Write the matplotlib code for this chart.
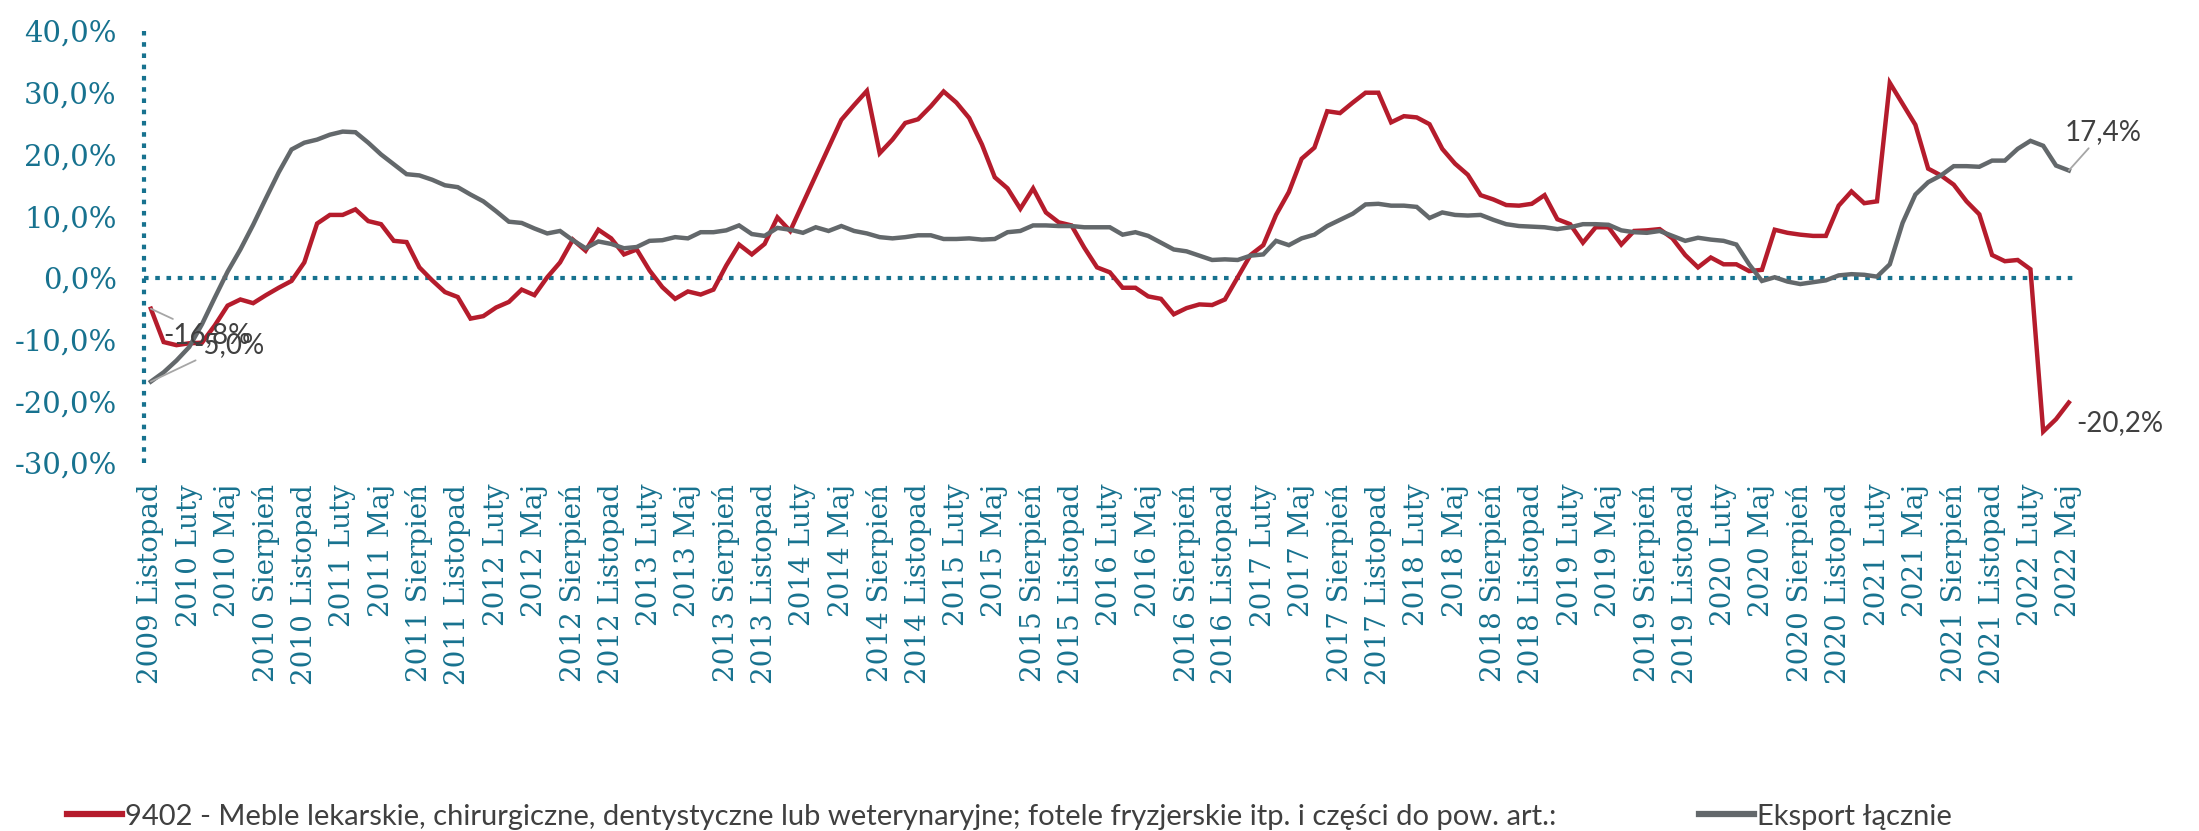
import matplotlib
matplotlib.use('Agg')
import matplotlib.pyplot as plt
import numpy as np

# miesiące od 2009 Listopad do 2022 Maj
month_names = ['Styczeń', 'Luty', 'Marzec', 'Kwiecień', 'Maj', 'Czerwiec',
               'Lipiec', 'Sierpień', 'Wrzesień', 'Październik', 'Listopad', 'Grudzień']
months = []
for year in range(2009, 2023):
    for m in range(12):
        if (year == 2009 and m < 10) or (year == 2022 and m > 4):
            continue
        months.append(f'{year} {month_names[m]}')

meble = [-5.0, -10.4, -10.9, -10.6, -10.5, -7.7, -4.5, -3.5, -4.1, -2.8,
         -1.6, -0.5, 2.5, 8.8, 10.2, 10.2, 11.1, 9.2, 8.7, 6.0,
         5.8, 1.7, -0.4, -2.3, -3.1, -6.6, -6.2, -4.8, -3.9, -1.9,
         -2.8, 0.1, 2.5, 6.2, 4.4, 7.8, 6.4, 3.8, 4.6, 1.2,
         -1.5, -3.4, -2.2, -2.7, -1.9, 2.0, 5.4, 3.8, 5.5, 9.8,
         7.6, 12.1, 16.6, 21.1, 25.6, 28.0, 30.3, 20.2, 22.4, 25.1,
         25.7, 27.8, 30.2, 28.4, 25.9, 21.6, 16.3, 14.5, 11.2, 14.5,
         10.6, 9.0, 8.5, 4.9, 1.7, 0.9, -1.6, -1.6, -3.0, -3.4,
         -5.9, -4.9, -4.3, -4.4, -3.5, 0.1, 3.7, 5.3, 10.2, 13.9,
         19.3, 21.1, 27.0, 26.7, 28.4, 30.0, 30.0, 25.2, 26.2, 26.0,
         24.9, 20.9, 18.5, 16.7, 13.4, 12.7, 11.8, 11.7, 12.0, 13.4,
         9.5, 8.7, 5.7, 8.2, 8.2, 5.4, 7.6, 7.7, 7.9, 6.4,
         3.7, 1.7, 3.3, 2.2, 2.2, 1.1, 1.3, 7.8, 7.3, 7.0,
         6.8, 6.8, 11.7, 14.0, 12.1, 12.4, 31.6, 28.2, 24.8, 17.7,
         16.6, 15.1, 12.4, 10.3, 3.7, 2.7, 2.9, 1.4, -24.9, -22.9,
         -20.2]

eksport = [-16.8, -15.3, -13.4, -11.2, -7.5, -3.2, 1.0, 4.6, 8.6, 12.9,
           17.1, 20.8, 21.9, 22.4, 23.2, 23.7, 23.6, 21.9, 20.0, 18.4,
           16.8, 16.6, 15.9, 15.0, 14.7, 13.5, 12.4, 10.8, 9.1, 8.9,
           8.0, 7.2, 7.6, 6.1, 4.8, 5.9, 5.5, 4.8, 5.0, 6.0,
           6.1, 6.6, 6.4, 7.4, 7.4, 7.7, 8.5, 7.1, 6.8, 8.1,
           7.8, 7.3, 8.2, 7.6, 8.4, 7.6, 7.2, 6.6, 6.4, 6.6,
           6.9, 6.9, 6.3, 6.3, 6.4, 6.2, 6.3, 7.4, 7.6, 8.5,
           8.5, 8.4, 8.4, 8.2, 8.2, 8.2, 7.0, 7.4, 6.8, 5.7,
           4.6, 4.3, 3.6, 2.9, 3.0, 2.9, 3.6, 3.8, 6.0, 5.3,
           6.4, 7.0, 8.4, 9.4, 10.4, 11.9, 12.0, 11.7, 11.7, 11.5,
           9.7, 10.6, 10.2, 10.1, 10.2, 9.4, 8.7, 8.4, 8.3, 8.2,
           7.9, 8.2, 8.7, 8.7, 8.6, 7.7, 7.4, 7.3, 7.6, 6.8,
           6.0, 6.5, 6.2, 6.0, 5.4, 2.2, -0.5, 0.1, -0.6, -1.0,
           -0.7, -0.4, 0.4, 0.6, 0.5, 0.2, 2.2, 8.9, 13.5, 15.5,
           16.6, 18.1, 18.1, 18.0, 19.0, 19.0, 20.9, 22.2, 21.4, 18.2,
           17.4]

series_names = ['9402 - Meble lekarskie, chirurgiczne, dentystyczne lub weterynaryjne; '
                'fotele fryzjerskie itp. i części do pow. art.:', 'Eksport łącznie']
y_ticks = [-30, -20, -10, 0, 10, 20, 30, 40]
tick_labels = months[::3]

teal = '#17728f'
red = '#b51c2c'
grey = '#63686b'
txt = '#404040'

fig = plt.figure(figsize=(21.99, 8.31), dpi=100)
ax = fig.add_axes([0.0657, 0.4428, 0.878, 0.5199])

x = np.arange(len(months))
ax.plot(x, meble, color=red, lw=3.2, solid_joinstyle='miter', zorder=3, label=series_names[0])
ax.plot(x, eksport, color=grey, lw=3.2, solid_joinstyle='miter', zorder=4, label=series_names[1])

ax.set_xlim(-0.5, len(months) - 0.5)
ax.set_ylim(-30, 40)
ax.axhline(0, color=teal, lw=3.0, linestyle=(0, (1.1, 1.6)), dash_capstyle='butt', zorder=2)

for s in ['top', 'right', 'bottom']:
    ax.spines[s].set_visible(False)
ax.spines['left'].set_color(teal)
ax.spines['left'].set_linewidth(3.0)
ax.spines['left'].set_linestyle((0, (1.1, 1.6)))
ax.spines['left'].set_capstyle('butt')

ax.set_yticks(y_ticks)
ax.set_yticklabels([f'{v:.1f}%'.replace('.', ',') for v in y_ticks],
                   fontfamily='DejaVu Serif', fontsize=21, color=teal)
ax.set_xticks(x[::3])
ax.set_xticklabels(tick_labels, rotation=90, fontfamily='DejaVu Serif', fontsize=20, color=teal)
ax.tick_params(axis='y', length=0, pad=20)
ax.tick_params(axis='x', length=0, pad=15)

lbl = dict(fontfamily='Lato', fontsize=20, color=txt, ha='center', va='center')
lead = dict(arrowstyle='-', color='#a6a6a6', lw=1.3, shrinkA=0, shrinkB=0)
ax.annotate('-16,8%', xy=(0, meble[0]), xytext=(56, -26), textcoords='offset pixels',
            arrowprops=lead, zorder=6, **lbl)
ax.annotate('-5,0%', xy=(0, eksport[0]), xytext=(78, 37), textcoords='offset pixels',
            arrowprops=lead, zorder=6, **lbl)
ax.annotate('17,4%', xy=(len(months) - 1, eksport[-1]), xytext=(34, 38), textcoords='offset pixels',
            arrowprops=lead, zorder=6, **lbl)
ax.annotate('-20,2%', xy=(len(months) - 1, meble[-1]), xytext=(51, -20), textcoords='offset pixels',
            zorder=6, **lbl)

leg = fig.legend(loc='lower left', bbox_to_anchor=(0.0186, -0.03), ncol=2, frameon=False,
                 prop={'family': 'Lato', 'size': 21}, labelcolor=txt,
                 handlelength=1.88, handletextpad=0.1, columnspacing=4.9)
for h in leg.get_lines():
    h.set_linewidth(4.5)

fig.savefig('out.png', dpi=100)
